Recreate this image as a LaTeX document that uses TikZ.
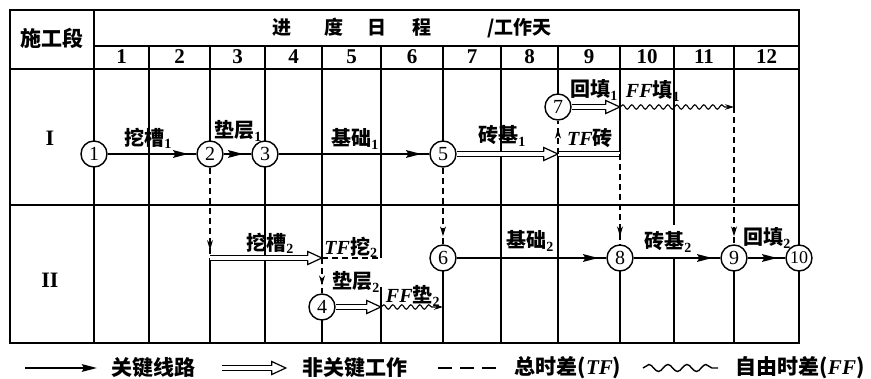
\documentclass[tikz,border=0pt]{standalone}
\usepackage{fontspec}
\setmainfont{Noto Sans CJK SC}
\newfontfamily\serifnum{Liberation Serif}
\usetikzlibrary{arrows.meta,decorations.markings,decorations.pathmorphing}
\newcommand{\ncarrow}[2]{\draw[ncshaft] (#1) -- (#2); \path[nchead] (#1) -- (#2);}
\newcommand{\tfit}[1]{{\serifnum\bfseries\itshape #1}}
\newcommand{\sbn}[1]{\textsubscript{\serifnum\bfseries #1}}
\tikzset{
 gridln/.style={line width=1.1pt},
 rowln/.style={line width=1.4pt},
 frameln/.style={line width=1.7pt},
 evt/.style={circle, draw, line width=1.4pt, fill=white, minimum size=26pt, inner sep=0pt, font=\serifnum\fontsize{20}{20}\selectfont},
 lbl/.style={inner sep=0pt, font=\bfseries\fontsize{20}{20}\selectfont},
 lgd/.style={inner sep=0pt, font=\bfseries\fontsize{21}{21}\selectfont},
 hdr/.style={inner sep=0pt, font=\serifnum\bfseries\fontsize{21}{21}\selectfont},
 crit/.style={line width=2.2pt, postaction={decorate}, decoration={markings, mark=at position -8pt with {\arrow{Stealth[length=15pt,width=7.5pt,inset=2pt]}}}},
 ncshaft/.style={draw, line width=1.2pt, double, double distance=3.4pt, shorten >=13pt},
 nchead/.style={postaction={decorate}, decoration={markings, mark=at position -0.2pt with {\draw[line width=1.2pt, fill=white, line join=miter] (-14,2.3) -- (-14,6.5) -- (0,0) -- (-14,-6.5) -- (-14,-2.3);}}},
 dummy/.style={line width=1.1pt, dash pattern=on 6pt off 4pt, postaction={decorate}, decoration={markings, mark=at position -8pt with {\arrow{Stealth[length=10pt,width=6pt]}}}},
 tfln/.style={line width=1.2pt, dash pattern=on 6pt off 4pt},
 ffwave/.style={line width=1.1pt, decorate, decoration={snake, amplitude=2.2pt, segment length=9pt, post length=7pt}, -{Stealth[length=9pt,width=5.5pt]}},
}
\begin{document}
\begin{tikzpicture}[x=1pt,y=-1pt]
\useasboundingbox (0,0) rectangle (871,379);
% ---- table ----
\draw[frameln] (10,10) rectangle (799,343);
\draw[gridln] (94,46) -- (799,46);
\draw[rowln] (10,69) -- (799,69);
\draw[rowln] (10,205) -- (799,205);
\draw[gridln] (94,10) -- (94,343);
\foreach \x in {149,210,265,322,381,443,501,558,620,674,734}
  \draw[gridln] (\x,46) -- (\x,69);
\foreach \x/\a/\b in {149/69/343, 210/69/154, 210/258/343, 265/69/343, 322/69/258, 322/307/343,
  381/69/258, 381/287/343, 443/69/154, 443/258/343, 501/69/343, 558/69/107, 558/154/343,
  620/69/154, 620/258/343, 674/69/225, 674/258/343, 734/69/107, 734/258/343}
  \draw[gridln] (\x,\a) -- (\x,\b);
% ---- header texts ----
\node[inner sep=0pt, font=\bfseries\fontsize{21}{21}\selectfont] (hsec) at (52,38) {施工段};
\node[inner sep=0pt, anchor=west, font=\bfseries\fontsize{19}{19}\selectfont] (hsched) at (272,28) {进\hspace{33pt}度\hspace{24pt}日\hspace{26pt}程\hspace{56pt}/工作天};
\foreach \c/\t [count=\i] in {121.5/1,179.5/2,237.5/3,293.5/4,351.5/5,412/6,472/7,529.5/8,589/9,647/10,704/11,766.5/12}
  \node[hdr] (d\i) at (\c,57) {\t};
\node[hdr, font=\serifnum\bfseries\fontsize{22}{22}\selectfont] (rI) at (50,138) {I};
\node[hdr, font=\serifnum\bfseries\fontsize{22}{22}\selectfont] (rII) at (50,280) {II};
% ---- named points ----
\coordinate (a2) at (210,258);
\coordinate (wa2e) at (322,258);
\coordinate (tfwe) at (381,258);
\coordinate (dc2e) at (381,307);
\coordinate (ffd2e) at (443,307);
\coordinate (zj1e) at (558,154);
\coordinate (tfze) at (620,154);
\coordinate (ht1e) at (620,107);
\coordinate (ff1e) at (734,107);
% ---- events ----
\node[evt] (n1) at (94,154) {1};
\node[evt] (n2) at (210,154) {2};
\node[evt] (n3) at (265,154) {3};
\node[evt] (n5) at (443,154) {5};
\node[evt] (n7) at (558,107) {7};
\node[evt] (n4) at (322,307) {4};
\node[evt] (n6) at (443,258) {6};
\node[evt] (n8) at (620,258) {8};
\node[evt] (n9) at (734,258) {9};
\node[evt, font=\serifnum\fontsize{18}{18}\selectfont] (n10) at (799,258) {10};
% ---- activities ----
\draw[crit] (n1) -- (n2);
\draw[crit] (n2) -- (n3);
\draw[crit] (n3) -- (n5);
\ncarrow{n5}{zj1e}
\draw[line width=1.1pt, double, double distance=3.4pt] (zj1e) -- (tfze);
\ncarrow{n7}{ht1e}
\draw[ffwave] (ht1e) -- (ff1e);
\draw[dummy] (n2) -- (a2);
\ncarrow{a2}{wa2e}
\draw[tfln] (wa2e) -- (tfwe);
\draw[dummy] (wa2e) -- (n4);
\ncarrow{n4}{dc2e}
\draw[ffwave] (dc2e) -- (ffd2e);
\draw[dummy] (n5) -- (n6);
\draw[dummy] (zj1e) -- (n7);
\draw[dummy] (tfze) -- (n8);
\draw[dummy] (ff1e) -- (n9);
\draw[crit] (n6) -- (n8);
\draw[crit] (n8) -- (n9);
\draw[crit] (n9) -- (n10);
% ---- labels ----
\node[lbl] (l1) at (148,138) {挖槽\sbn{1}};
\node[lbl] (l2) at (238,131) {垫层\sbn{1}};
\node[lbl] (l3) at (355,139) {基础\sbn{1}};
\node[lbl] (l4) at (502,136) {砖基\sbn{1}};
\node[lbl] (l5) at (594,90) {回填\sbn{1}};
\node[lbl] (l6) at (653,91) {\tfit{FF}填\sbn{1}};
\node[lbl] (l7) at (590,138) {\tfit{TF}砖};
\node[lbl] (l8) at (270,243) {挖槽\sbn{2}};
\node[lbl] (l9) at (351,247) {\tfit{TF}挖\sbn{2}};
\node[lbl] (l10) at (356,282) {垫层\sbn{2}};
\node[lbl] (l11) at (413,296) {\tfit{FF}垫\sbn{2}};
\node[lbl] (l12) at (530,241) {基础\sbn{2}};
\node[lbl] (l13) at (668,242) {砖基\sbn{2}};
\node[lbl] (l14) at (767,238) {回填\sbn{2}};
% ---- legend ----
\coordinate (lga) at (25,368);
\coordinate (lgb) at (97,368);
\draw[line width=2.2pt, -{Stealth[length=15pt,width=7.5pt,inset=2pt]}] (lga) -- (lgb);
\node[lgd] (lgt1) at (153,368) {关键线路};
\coordinate (lgc) at (222,368);
\coordinate (lgd) at (286,368);
\ncarrow{lgc}{lgd}
\node[lgd] (lgt2) at (355,368) {非关键工作};
\coordinate (lge) at (438,368);
\coordinate (lgf) at (500,368);
\draw[line width=1.8pt, dash pattern=on 14pt off 8pt] (lge) -- (lgf);
\node[lgd] (lgt3) at (568,368) {总时差(\tfit{TF})};
\coordinate (lgg) at (643,368);
\coordinate (lgh) at (718,368);
\draw[line width=1.4pt, decorate, decoration={snake, amplitude=3.5pt, segment length=19pt}] (lgg) -- (lgh);
\node[lgd] (lgt4) at (800,368) {自由时差(\tfit{FF})};
\end{tikzpicture}
\end{document}
